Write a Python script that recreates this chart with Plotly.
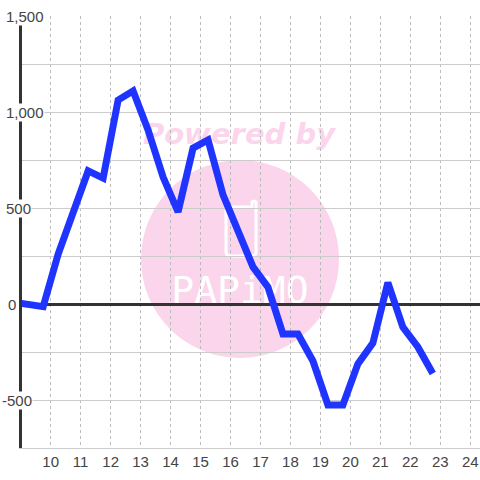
import plotly.graph_objects as go

hours = [8.75, 9.75, 10.25, 10.75, 11.25, 11.75, 12.25, 12.75, 13.25, 13.75, 14.25, 14.75, 15.25, 15.75,
         16.25, 16.75, 17.25, 17.75, 18.25, 18.75, 19.25, 19.75, 20.25, 20.75, 21.25, 21.75, 22.25, 22.75]
values = [10, -14, 260, 470, 693, 656, 1062, 1110, 906, 661, 480, 812, 854, 568,
          370, 193, 88, -156, -156, -297, -526, -526, -312, -203, 112, -120, -224, -362]
x_ticks = list(range(10, 25))
y_label_values = [1500, 1000, 500, 0, -500]
y_label_texts = ["1,500", "1,000", "500", "0", "-500"]

W, H = 480, 480
L, R, T, B = 22, 0, 16, 32
y_label_centers_px = [24.5, 24.5, 18, 12, 16.5]


def px(x):
    return (x - L) / (W - L - R)


def py(y):
    return 1 - (y - T) / (H - T - B)


PINK = "#fbd5ec"
shapes = [
    dict(type="circle", xref="paper", yref="paper", x0=px(141), x1=px(339), y0=py(358), y1=py(160),
         fillcolor=PINK, line=dict(width=0), layer="below"),
    dict(type="path", xref="paper", yref="paper", layer="below", fillcolor="rgba(0,0,0,0)",
         line=dict(color="white", width=3),
         path=f"M {px(226)} {py(207)} L {px(226)} {py(252)} Q {px(226)} {py(256)} {px(230)} {py(256)} "
              f"L {px(252)} {py(256)} Q {px(256)} {py(256)} {px(256)} {py(252)} L {px(256)} {py(202)} "
              f"Q {px(254)} {py(200)} {px(252)} {py(202)} L {px(252)} {py(207)} Z"),
    dict(type="rect", xref="paper", yref="paper", layer="below", x0=px(139), x1=px(339), y0=py(150), y1=py(114),
         line=dict(width=0), fillcolor="rgba(0,0,0,0)",
         label=dict(text="Powered by", textposition="middle center",
                    font=dict(family="DejaVu Sans", size=29, color=PINK, weight="bold", style="italic"))),
    dict(type="rect", xref="paper", yref="paper", layer="below", x0=px(160), x1=px(320), y0=py(305), y1=py(269),
         line=dict(width=0), fillcolor="rgba(0,0,0,0)",
         label=dict(text="PAPiMO", textposition="middle center",
                    font=dict(family="DejaVu Sans Mono", size=38, color="white"))),
]

annotations = [
    dict(xref="paper", yref="y", x=px(c), y=v, text=t, showarrow=False, xanchor="center", yanchor="middle",
         bgcolor="white", borderpad=0, font=dict(family="Liberation Sans", size=15, color="#444"))
    for v, t, c in zip(y_label_values, y_label_texts, y_label_centers_px)
]

fig = go.Figure(go.Scatter(x=hours, y=values, mode="lines", cliponaxis=False,
                           line=dict(color="#1f35ff", width=7), hoverinfo="skip"))
fig.update_layout(
    width=W, height=H, margin=dict(l=L, r=R, t=T, b=B, pad=0), autosize=False,
    paper_bgcolor="white", plot_bgcolor="white", showlegend=False,
    shapes=shapes, annotations=annotations,
    xaxis=dict(range=[9.043, 24.324], tickmode="array", tickvals=x_ticks, ticks="",
               showgrid=True, gridcolor="#bbbbbb", griddash="3px,3px", gridwidth=1,
               showline=True, linecolor="#cccccc", linewidth=1, zeroline=False,
               tickfont=dict(family="Liberation Sans", size=15, color="#444")),
    yaxis=dict(range=[-750, 1500], dtick=250, tick0=0, showticklabels=False, ticks="",
               showgrid=True, gridcolor="#cccccc", gridwidth=1,
               showline=True, linecolor="#333333", linewidth=3,
               zeroline=True, zerolinecolor="#333333", zerolinewidth=3),
)
fig.write_html("out.html", config=dict(displayModeBar=False),
               post_script="document.body.style.margin='0';document.documentElement.style.overflow='hidden';")
